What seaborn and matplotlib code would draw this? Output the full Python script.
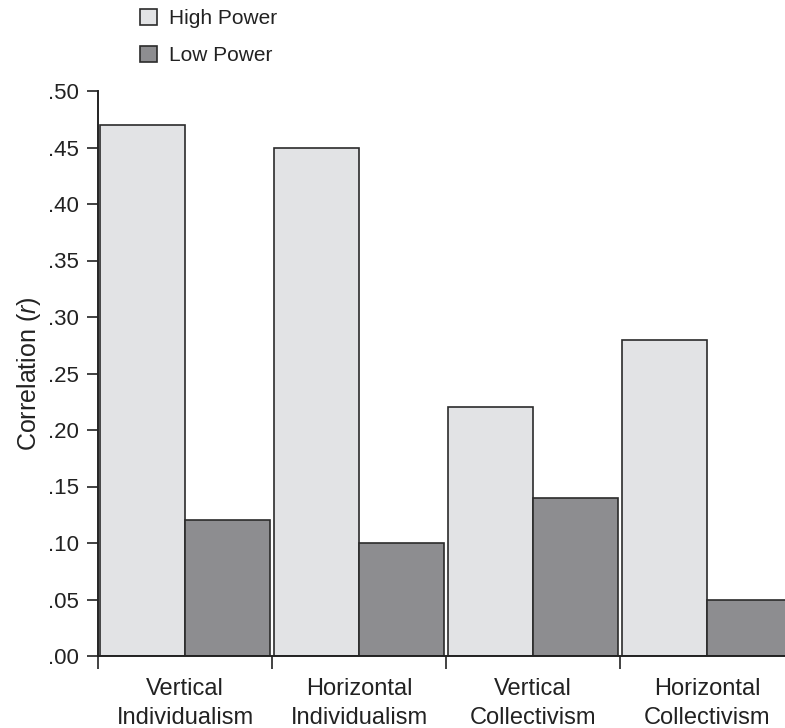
import pandas as pd
import matplotlib.pyplot as plt
import seaborn as sns
from matplotlib.ticker import FixedLocator

categories = ["Vertical\nIndividualism", "Horizontal\nIndividualism",
              "Vertical\nCollectivism", "Horizontal\nCollectivism"]
high_power = [0.47, 0.45, 0.22, 0.28]
low_power = [0.12, 0.10, 0.14, 0.05]
yticks = [0.00, 0.05, 0.10, 0.15, 0.20, 0.25, 0.30, 0.35, 0.40, 0.45, 0.50]

df = pd.DataFrame({
    "category": categories * 2,
    "power": ["High Power"] * 4 + ["Low Power"] * 4,
    "r": high_power + low_power,
})

sns.set_style("white")
plt.rcParams["font.family"] = ["Liberation Sans", "DejaVu Sans"]
plt.rcParams["mathtext.fontset"] = "custom"
plt.rcParams["mathtext.rm"] = "Liberation Sans"
plt.rcParams["mathtext.it"] = "Liberation Sans:italic"

fig = plt.figure(figsize=(7.85, 7.28), dpi=100)
ax = fig.add_axes([98 / 785, 1 - 656 / 728, 1 - 98 / 785, (656 - 91) / 728])

sns.barplot(data=df, x="category", y="r", hue="power", order=categories,
            palette=["#e2e3e5", "#8c8d91"], width=0.975,
            edgecolor="#2b2b2b", linewidth=1.2, ax=ax)

ax.set_ylim(0, 0.5)
ax.set_xlim(-0.5, 3.5 - 9 / 174)
ax.set_yticks(yticks)
ax.set_yticklabels([f"{v:.2f}"[1:] for v in yticks])
ax.set_xticks(range(4))
ax.set_xticklabels(categories, linespacing=1.4)
ax.xaxis.set_minor_locator(FixedLocator([-0.5, 0.5, 1.5, 2.5]))
ax.tick_params(axis="x", which="major", length=0, pad=16, labelsize=17, colors="#222222")
ax.tick_params(axis="x", which="minor", length=9, width=1.2, color="#222222", bottom=True)
ax.tick_params(axis="y", length=8, width=1.2, color="#222222", labelsize=16, pad=6,
               labelcolor="#222222", left=True)
ax.set_xlabel("")
ax.set_ylabel(r"Correlation ($\it{r}$)", fontsize=18, color="#222222", labelpad=3)

sns.despine(ax=ax)
for side in ["left", "bottom"]:
    ax.spines[side].set_color("#222222")
    ax.spines[side].set_linewidth(1.4)

handles, labels = ax.get_legend_handles_labels()
ax.get_legend().remove()
fig.legend(handles, labels, loc="upper left", bbox_to_anchor=(125 / 785, 1 + 6 / 728),
           frameon=False, fontsize=15, handlelength=0.85, handleheight=0.85,
           handletextpad=0.55, labelspacing=0.85, borderpad=0.2,
           labelcolor="#222222")

fig.savefig("out.png", dpi=100)
